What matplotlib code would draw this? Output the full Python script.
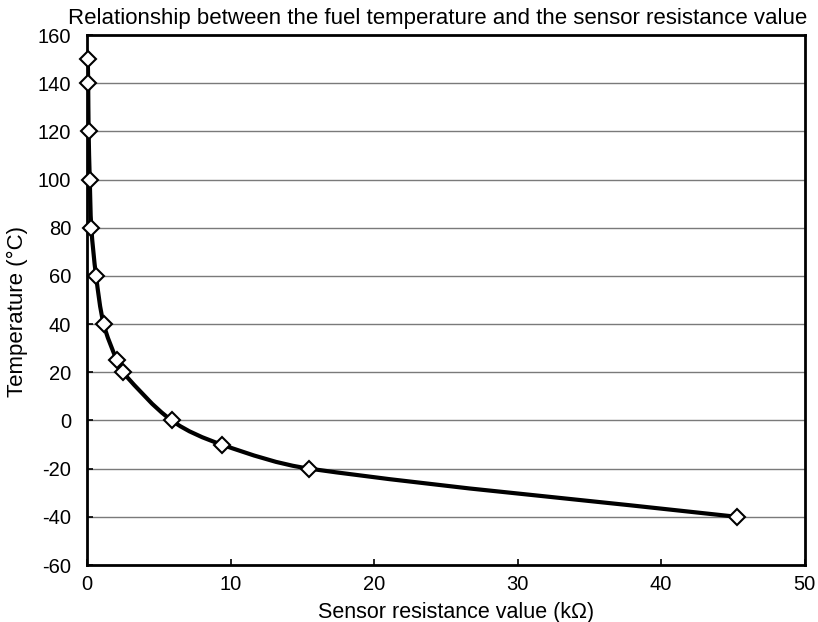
import matplotlib
matplotlib.use("Agg")
import matplotlib.pyplot as plt
from matplotlib.path import Path
from matplotlib.patches import PathPatch
from matplotlib.transforms import IdentityTransform
import numpy as np

plt.rcParams['font.family'] = ['Liberation Sans', 'DejaVu Sans']
plt.rcParams['axes.unicode_minus'] = False

resistance = [0.05, 0.08, 0.11, 0.19, 0.30, 0.63, 1.16, 2.07, 2.49, 5.9, 9.38, 15.5, 45.3]
temperature = [150, 140, 120, 100, 80, 60, 40, 25, 20, 0, -10, -20, -40]

fig = plt.figure(figsize=(8.18, 6.22), dpi=100)
ax = fig.add_axes([0.1064, 0.0916, 0.8772, 0.8521])

ax.set_xlim(0, 50)
ax.set_ylim(-60, 160)
ax.set_xticks(range(0, 51, 10))
ax.set_yticks(range(-60, 161, 20))
for yv in range(-40, 160, 20):
    ax.axhline(yv, color='#7a7a7a', lw=1.0, zorder=1)

# smooth curve through the data points (chord-weighted Bezier), in display space
x = np.array(resistance); y = np.array(temperature)
fig.canvas.draw()
pts = ax.transData.transform(np.column_stack([x, y]))
n = len(pts)
tang = []
for i in range(n):
    p0 = pts[max(i - 1, 0)]; p2 = pts[min(i + 1, n - 1)]
    d = p2 - p0
    nd = np.linalg.norm(d)
    tang.append(d / nd if nd > 0 else d)
verts = [pts[0]]; codes = [Path.MOVETO]
for i in range(n - 1):
    p1 = pts[i]; p2 = pts[i + 1]
    L = np.linalg.norm(p2 - p1) / 3.0
    verts += [p1 + tang[i] * L, p2 - tang[i + 1] * L, p2]
    codes += [Path.CURVE4] * 3
patch = PathPatch(Path(verts, codes), facecolor='none', edgecolor='black', lw=3.0, zorder=3)
ax.add_patch(patch)
patch.set_transform(IdentityTransform())

ax.plot(x, y, linestyle='none', marker='D', markersize=8.5, markerfacecolor='white',
        markeredgecolor='black', markeredgewidth=1.5, zorder=4, clip_on=False)

for s in ax.spines.values():
    s.set_linewidth(2.0)
ax.tick_params(direction='in', length=4, width=1.2, labelsize=14.5)
ax.tick_params(axis='y', pad=11.5)
ax.tick_params(axis='x', pad=7)
ax.set_xlabel('Sensor resistance value (k\u03a9)', fontsize=15.5)
ax.xaxis.set_label_coords(0.514, -0.069)
ax.xaxis.label.set_va('top')
ax.set_ylabel('Temperature (\u00b0C)', fontsize=16)
ax.yaxis.set_label_coords(-0.082, 0.479)
ax.set_title('Relationship between the fuel temperature and the sensor resistance value',
             fontsize=16, pad=8, x=0.488)

fig.savefig('out.png', dpi=100)
